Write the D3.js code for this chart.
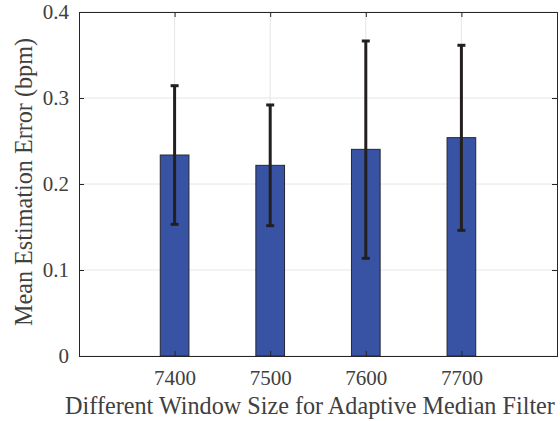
<!DOCTYPE html>
<html><head><meta charset="utf-8">
<script src="https://cdn.jsdelivr.net/npm/d3@7"></script>
<style>body{margin:0;background:#fff}svg{display:block}</style>
</head><body>
<script>
const categories = [7400, 7500, 7600, 7700];
const means = [0.2337, 0.2217, 0.2403, 0.2539];
const errUpper = [0.3143, 0.2919, 0.3663, 0.3613];
const errLower = [0.1531, 0.1515, 0.1136, 0.1461];
const yTicks = [0, 0.1, 0.2, 0.3, 0.4];
const xTicks = [7400, 7500, 7600, 7700];

const FONT = "'Liberation Serif', 'Times New Roman', Times, serif";
const W = 560, H = 421;
const m = {l: 79, r: 3, t: 12, b: 65};
const svg = d3.select("body").append("svg").attr("width", W).attr("height", H);
const x = d3.scaleLinear().domain([7300, 7800]).range([m.l, W - m.r]);
const y = d3.scaleLinear().domain([0, 0.4]).range([H - m.b, m.t]);
const g = svg.append("g");

// grid
g.selectAll(".gy").data(yTicks).join("line")
  .attr("x1", m.l).attr("x2", W - m.r).attr("y1", d => y(d)).attr("y2", d => y(d))
  .attr("stroke", "#e6e6e6").attr("stroke-width", 1);
g.selectAll(".gx").data(xTicks).join("line")
  .attr("y1", m.t).attr("y2", H - m.b).attr("x1", d => x(d)).attr("x2", d => x(d))
  .attr("stroke", "#e6e6e6").attr("stroke-width", 1);

// bars
const bw = x(7415) - x(7400);
g.selectAll(".bar").data(categories).join("rect")
  .attr("x", (d) => x(d) - bw).attr("width", bw * 2)
  .attr("y", (d, i) => y(means[i])).attr("height", (d, i) => y(0) - y(means[i]))
  .attr("fill", "#3953a4").attr("stroke", "#262633").attr("stroke-width", 1);

// error bars
const cap = 4;
categories.forEach((c, i) => {
  const cx = x(c);
  g.append("line").attr("x1", cx).attr("x2", cx).attr("y1", y(errLower[i])).attr("y2", y(errUpper[i]))
    .attr("stroke", "#231f20").attr("stroke-width", 3);
  [errLower[i], errUpper[i]].forEach(v => {
    g.append("line").attr("x1", cx - cap).attr("x2", cx + cap).attr("y1", y(v)).attr("y2", y(v))
      .attr("stroke", "#231f20").attr("stroke-width", 3);
  });
});

// axes
const ax = d3.axisBottom(x).tickValues(xTicks).tickSize(-5).tickPadding(14).tickFormat(d3.format("d"));
const ay = d3.axisLeft(y).tickValues(yTicks).tickSize(-5).tickPadding(10).tickFormat(d => d === 0 ? "0" : d3.format(".1f")(d));
const axT = d3.axisTop(x).tickValues(xTicks).tickSize(-5).tickFormat("");
const ayR = d3.axisRight(y).tickValues(yTicks).tickSize(-5).tickFormat("");
function style(sel) {
  sel.attr("font-family", FONT).attr("font-size", 21);
  sel.selectAll("path").attr("stroke", "#262626").attr("stroke-width", 1);
  sel.selectAll("line").attr("stroke", "#262626");
  sel.selectAll("text").attr("fill", "#404040").attr("font-family", FONT).attr("font-size", 21);
}
svg.append("g").attr("transform", `translate(0,${H - m.b})`).call(ax).call(style);
svg.append("g").attr("transform", `translate(${m.l},0)`).call(ay).call(style);
svg.append("g").attr("transform", `translate(0,${m.t})`).call(axT).call(style);
svg.append("g").attr("transform", `translate(${W - m.r},0)`).call(ayR).call(style);

// labels
svg.append("text").attr("x", 310).attr("y", 414).attr("text-anchor", "middle")
  .attr("font-family", FONT).attr("font-size", 24.2).attr("fill", "#404040").text("Different Window Size for Adaptive Median Filter");
svg.append("text").attr("transform", `translate(32,${(m.t + H - m.b) / 2 - 2}) rotate(-90)`).attr("text-anchor", "middle")
  .attr("font-family", FONT).attr("font-size", 24.2).attr("fill", "#404040").text("Mean Estimation Error (bpm)");
</script>
</body></html>
